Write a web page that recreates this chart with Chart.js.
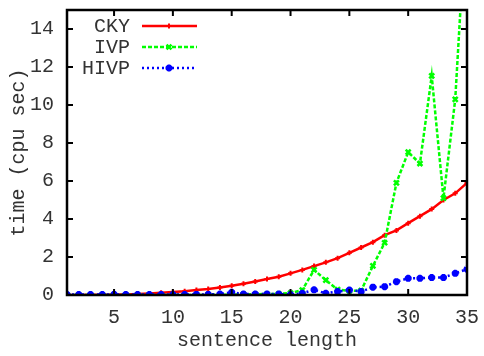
<!DOCTYPE html>
<html>
<head>
<meta charset="utf-8">
<script src="https://cdn.jsdelivr.net/npm/chart.js@4"></script>
<style>
  html, body { margin: 0; padding: 0; background: #fff; }
  #wrap { width: 484px; height: 356px; }
</style>
</head>
<body>
<div id="wrap"><canvas id="myChart" width="484" height="356"></canvas></div>
<script>
// data
var sentenceLength = [1,2,3,4,5,6,7,8,9,10,11,12,13,14,15,16,17,18,19,20,21,22,23,24,25,26,27,28,29,30,31,32,33,34,35];
var cky  = [0,0,0.01,0.01,0.02,0.03,0.05,0.08,0.12,0.16,0.2,0.26,0.32,0.4,0.49,0.59,0.71,0.84,0.96,1.14,1.32,1.52,1.72,1.94,2.22,2.5,2.78,3.15,3.4,3.78,4.15,4.52,5.0,5.35,5.9];
var ivp  = [0,0,0,0,0,0,0,0,0,0,0,0,0.01,0.01,0.02,0.03,0.04,0.05,0.06,0.1,0.26,1.32,0.78,0.28,0.22,0.23,1.53,2.75,5.9,7.52,6.92,11.53,5.1,10.3,21];
var hivp = [0.02,0.02,0.02,0.02,0.03,0.02,0.02,0.02,0.02,0.02,0.02,0.03,0.03,0.05,0.14,0.05,0.05,0.05,0.05,0.02,0.09,0.27,0.09,0.18,0.26,0.18,0.41,0.44,0.7,0.88,0.88,0.92,0.92,1.14,1.36];
var xTicks = [5,10,15,20,25,30,35];
var yTicks = [0,2,4,6,8,10,12,14];

var FONT = 'Liberation Mono';
var TXT = '#333';

function pts(ys) {
    return sentenceLength.map(function (x, i) { return { x: x, y: ys[i] }; });
}

// frame + inward ticks on all four sides, gnuplot style
var framePlugin = {
    id: 'frame',
    afterDatasetsDraw: function (chart) {
        var c = chart.ctx, a = chart.chartArea;
        var xs = chart.scales.x, ys = chart.scales.y;
        c.save();
        c.strokeStyle = '#000';
        c.lineWidth = 2;
        c.beginPath();
        xTicks.forEach(function (v) {
            var px = xs.getPixelForValue(v);
            c.moveTo(px, a.bottom); c.lineTo(px, a.bottom - 6);
            c.moveTo(px, a.top); c.lineTo(px, a.top + 6);
        });
        yTicks.forEach(function (v) {
            var py = ys.getPixelForValue(v);
            c.moveTo(a.left, py); c.lineTo(a.left + 6, py);
            c.moveTo(a.right, py); c.lineTo(a.right - 6, py);
        });
        c.stroke();
        c.lineWidth = 2.5;
        c.strokeRect(a.left, a.top, a.right - a.left, a.bottom - a.top);
        c.restore();
    }
};

// key in the top left corner: label right aligned, then a line sample
var keyPlugin = {
    id: 'key',
    afterDraw: function (chart) {
        var c = chart.ctx;
        var rows = [26, 47, 68];
        c.save();
        chart.data.datasets.forEach(function (ds, i) {
            var y = rows[i];
            c.fillStyle = TXT;
            c.font = '20px "' + FONT + '"';
            c.textAlign = 'right';
            c.textBaseline = 'middle';
            c.fillText(ds.label, 130, y + 1);
            c.strokeStyle = ds.borderColor;
            c.lineWidth = ds.borderWidth;
            c.setLineDash(ds.borderDash || []);
            c.beginPath();
            c.moveTo(142, y); c.lineTo(197, y);
            c.stroke();
            c.setLineDash([]);
            c.strokeStyle = ds.borderColor;
            c.fillStyle = ds.borderColor;
            c.lineWidth = ds.pointBorderWidth;
            Chart.helpers.drawPoint(c, {
                pointStyle: ds.pointStyle, radius: ds.pointRadius, borderWidth: ds.pointBorderWidth
            }, 169, y);
        });
        c.restore();
    }
};

var ctx = document.getElementById('myChart').getContext('2d');
var timeChart = new Chart(ctx, {
    type: 'line',
    data: {
        datasets: [
            {
                label: 'CKY',
                data: pts(cky),
                borderColor: '#ff0000',
                backgroundColor: '#ff0000',
                borderWidth: 2.5,
                pointStyle: 'cross',
                pointRadius: 2.5,
                pointBorderWidth: 2,
                order: 2
            },
            {
                label: 'IVP',
                data: pts(ivp),
                borderColor: '#00ff00',
                backgroundColor: '#00ff00',
                borderWidth: 2.5,
                borderDash: [4, 2],
                pointStyle: 'crossRot',
                pointRadius: 3.5,
                pointBorderWidth: 2.5,
                order: 1
            },
            {
                label: 'HIVP',
                data: pts(hivp),
                borderColor: '#0000ff',
                backgroundColor: '#0000ff',
                borderWidth: 2.5,
                borderDash: [2, 3],
                pointStyle: 'star',
                pointRadius: 3.5,
                pointBorderWidth: 2.5,
                order: 0
            }
        ]
    },
    options: {
        responsive: false,
        animation: false,
        layout: { padding: { top: 10, right: 17, left: 0, bottom: 0 } },
        elements: { line: { tension: 0 } },
        scales: {
            x: {
                type: 'linear',
                min: 1,
                max: 35,
                afterBuildTicks: function (s) { s.ticks = xTicks.map(function (v) { return { value: v }; }); },
                afterFit: function (s) { s.height = 61; s.paddingLeft = 0; s.paddingRight = 0; },
                grid: { display: false, drawTicks: false },
                border: { display: false },
                ticks: {
                    padding: 11,
                    maxRotation: 0,
                    color: TXT,
                    font: { family: FONT, size: 20 }
                },
                title: {
                    display: true,
                    text: 'sentence length',
                    color: TXT,
                    padding: { top: 0, bottom: 3 },
                    font: { family: FONT, size: 20 }
                }
            },
            y: {
                min: 0,
                max: 15,
                afterBuildTicks: function (s) { s.ticks = yTicks.map(function (v) { return { value: v }; }); },
                afterFit: function (s) { s.width = 67; s.paddingTop = 0; s.paddingBottom = 0; },
                grid: { display: false, drawTicks: false },
                border: { display: false },
                ticks: {
                    padding: 13,
                    color: TXT,
                    font: { family: FONT, size: 20 }
                },
                title: {
                    display: true,
                    text: 'time (cpu sec)',
                    color: TXT,
                    padding: { top: 7, bottom: 0 },
                    font: { family: FONT, size: 20 }
                }
            }
        },
        plugins: {
            legend: { display: false },
            tooltip: { enabled: false }
        }
    },
    plugins: [framePlugin, keyPlugin]
});
</script>
</body>
</html>
